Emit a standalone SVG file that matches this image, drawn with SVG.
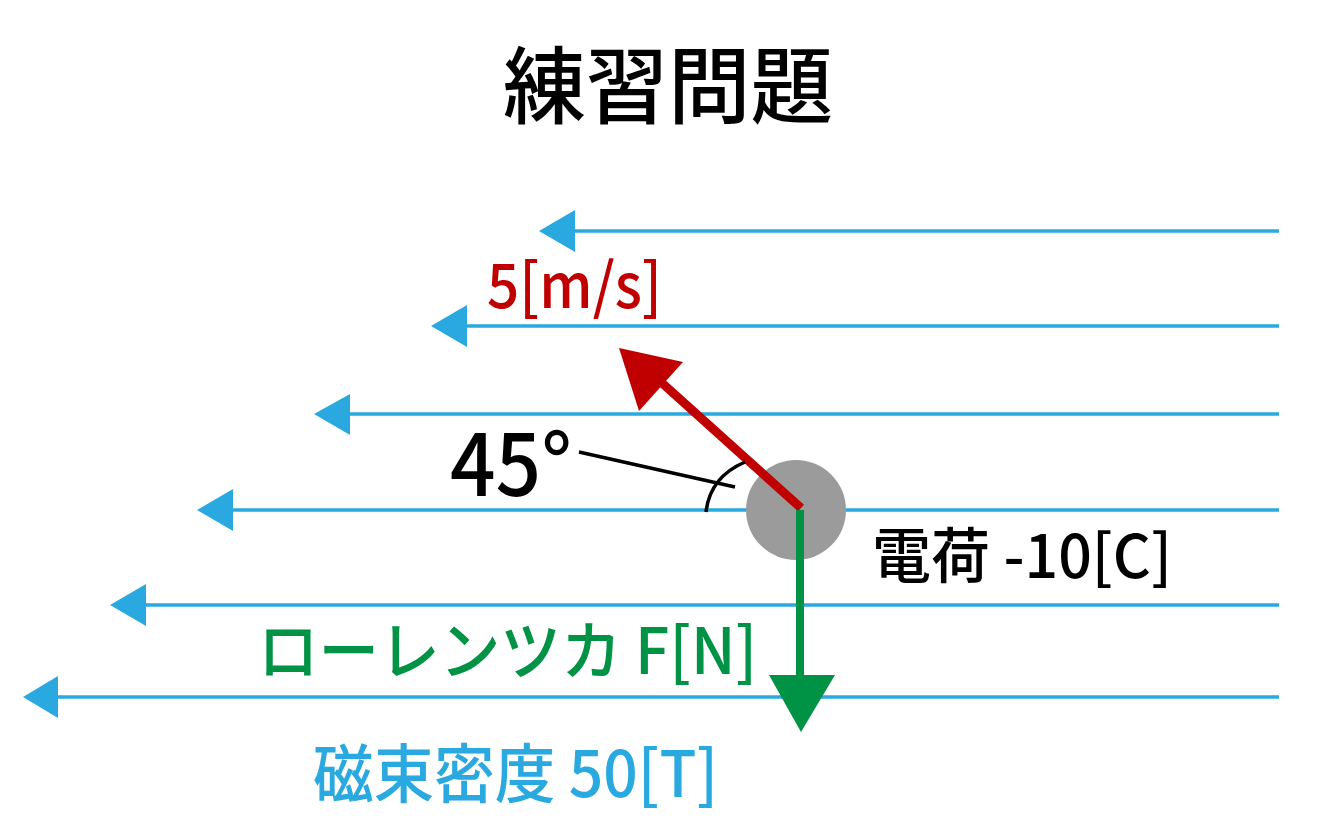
<svg xmlns="http://www.w3.org/2000/svg" width="1333" height="833" viewBox="0 0 1333 833">
<style>
text{font-family:"Noto Sans CJK JP","Noto Sans",sans-serif;font-weight:500}
.field{stroke:#29a9e0;stroke-width:3.5;fill:none}
.fhead{fill:#29a9e0}
</style>
<rect width="1333" height="833" fill="#fff"/>
<text id="title" x="503" y="117" font-size="84" textLength="330" lengthAdjust="spacingAndGlyphs" fill="#000">練習問題</text>
<g id="connectors">
<g id="field-lines">
<line class="field" x1="575" y1="231" x2="1279" y2="231"/><polygon class="fhead" points="539,231 575,210 575,252"/>
<line class="field" x1="466" y1="326" x2="1279" y2="326"/><polygon class="fhead" points="431,326 467,305 467,347"/>
<line class="field" x1="350" y1="414" x2="1279" y2="414"/><polygon class="fhead" points="314,414 350,394 350,435"/>
<line class="field" x1="233" y1="510" x2="1279" y2="510"/><polygon class="fhead" points="197,510 233,489 233,531"/>
<line class="field" x1="146" y1="605" x2="1279" y2="605"/><polygon class="fhead" points="110,605 146,584 146,626"/>
<line class="field" x1="58" y1="697" x2="1279" y2="697"/><polygon class="fhead" points="23,697 58,676 58,718"/>
</g>
</g>
<g id="charge"><circle cx="796" cy="510" r="50" fill="#9b9b9b"/></g>
<g id="velocity">
<line x1="801" y1="508" x2="662" y2="383" stroke="#c00000" stroke-width="9"/>
<polygon points="619,348 683,362 639,411" fill="#c00000"/>
</g>
<g id="force">
<line x1="800" y1="510" x2="800" y2="680" stroke="#009245" stroke-width="8"/>
<polygon points="769,675 835,675 801,732" fill="#009245"/>
</g>
<g id="angle">
<line x1="579" y1="452" x2="735" y2="487" stroke="#000" stroke-width="3.5"/>
<path d="M706,512 Q710,477 745,462" stroke="#000" stroke-width="3.5" fill="none"/>
</g>
<text id="angle-label" x="450" y="496" font-size="86" textLength="122" lengthAdjust="spacingAndGlyphs" fill="#000">45°</text>
<text id="velocity-label" x="487" y="308" font-size="62" textLength="175" lengthAdjust="spacingAndGlyphs" fill="#c00000">5[m/s]</text>
<text id="charge-label" x="872" y="578" font-size="60" textLength="300" lengthAdjust="spacingAndGlyphs" fill="#000">電荷 -10[C]</text>
<text id="force-label" x="258" y="674" font-size="64" textLength="499" lengthAdjust="spacingAndGlyphs" fill="#009245">ローレンツカ F[N]</text>
<text id="field-label" x="313" y="797" font-size="64" textLength="405" lengthAdjust="spacingAndGlyphs" fill="#29a9e0">磁束密度 50[T]</text>
</svg>
